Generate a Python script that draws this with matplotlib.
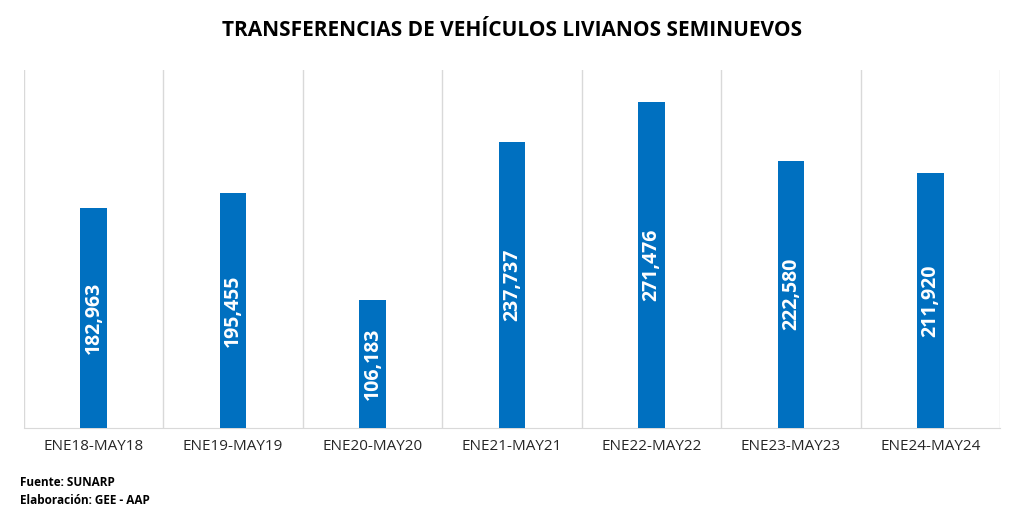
import matplotlib
matplotlib.use("Agg")
import matplotlib.pyplot as plt

categories = ["ENE18-MAY18", "ENE19-MAY19", "ENE20-MAY20", "ENE21-MAY21",
              "ENE22-MAY22", "ENE23-MAY23", "ENE24-MAY24"]
values = [182963, 195455, 106183, 237737, 271476, 222580, 211920]

plt.rcParams['font.family'] = ['Open Sans', 'DejaVu Sans']
fig = plt.figure(figsize=(10.24, 5.23), dpi=100)
ax = fig.add_axes([24/1024, 1-428/523, 976/1024, 358/523])
x = list(range(len(categories)))
ax.bar(x, values, width=0.19, color="#0070C0", zorder=3)
ax.set_xlim(-0.5, len(categories) - 0.5)
ax.set_ylim(0, 298000)
for b in [i + 0.5 for i in range(-1, len(categories))]:
    ax.axvline(b, color="#D9D9D9", lw=1, zorder=1)
for xi, v in zip(x, values):
    ax.text(xi, v / 2, f"{v:,}", rotation=90, ha="center", va="center",
            color="white", fontsize=14, fontweight="bold", zorder=4)
ax.set_xticks(x)
ax.set_xticklabels(categories, fontsize=11, color="#262626")
ax.tick_params(axis="x", length=0, pad=8)
ax.set_yticks([])
for s in ["top", "left", "right"]:
    ax.spines[s].set_visible(False)
ax.spines["bottom"].set_color("#D9D9D9")
fig.text(0.5, 1 - 30/523, "TRANSFERENCIAS DE VEHÍCULOS LIVIANOS SEMINUEVOS",
         ha="center", va="center", fontsize=15, fontweight="bold")
fig.text(20/1024, 1 - 482/523, "Fuente: SUNARP", fontsize=8.5, fontweight="bold", va="center")
fig.text(20/1024, 1 - 500/523, "Elaboración: GEE - AAP", fontsize=8.5, fontweight="bold", va="center")
fig.savefig("out.png", dpi=100)
